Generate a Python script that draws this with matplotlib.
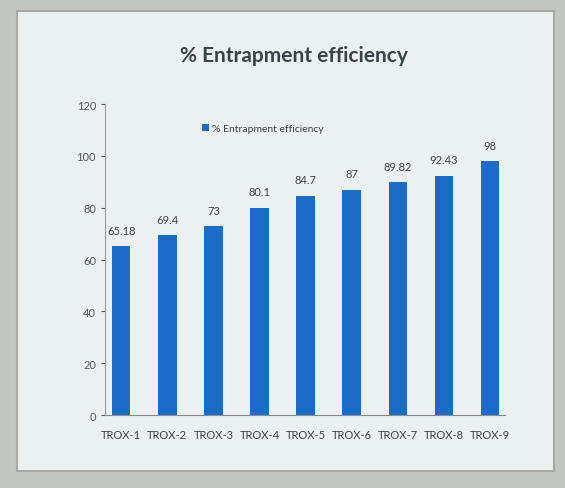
import matplotlib
matplotlib.use('Agg')
import matplotlib.pyplot as plt
from matplotlib.patches import Rectangle

categories = ['TROX-1', 'TROX-2', 'TROX-3', 'TROX-4', 'TROX-5',
              'TROX-6', 'TROX-7', 'TROX-8', 'TROX-9']
values = [65.18, 69.4, 73, 80.1, 84.7, 87, 89.82, 92.43, 98]
value_labels = ['65.18', '69.4', '73', '80.1', '84.7', '87', '89.82', '92.43', '98']
yticks = [0, 20, 40, 60, 80, 100, 120]


def main():
    plt.rcParams['font.family'] = ['Lato', 'DejaVu Sans']
    fig = plt.figure(figsize=(5.65, 4.89), dpi=100, facecolor='#c4c6c4')

    # slide area of the photo
    fig.patches.append(Rectangle((0.03, 0.035), 0.95, 0.94, transform=fig.transFigure,
                                 facecolor='#eaf1f0', edgecolor='#a8aaa8', lw=1.5, zorder=-1))

    ax = fig.add_axes([0.186, 0.149, 0.708, 0.636])
    ax.set_facecolor('none')

    x = range(len(categories))
    bars = ax.bar(x, values, width=0.4, color='#1a6cc6', zorder=2, label='% Entrapment efficiency')
    for b, lab in zip(bars, value_labels):
        ax.text(b.get_x() + b.get_width() / 2, b.get_height() + 4, lab,
                ha='center', va='bottom', fontsize=8, color='#404040')

    ax.set_xlim(-0.35, 8.33)
    ax.set_ylim(0, 120)
    ax.set_yticks(yticks)
    ax.set_xticks(list(x))
    ax.set_xticklabels(categories, fontsize=8, color='#404040')
    ax.tick_params(axis='y', labelsize=8, colors='#555555', length=3)
    ax.tick_params(axis='x', length=0, pad=10)

    for s in ['top', 'right']:
        ax.spines[s].set_visible(False)
    ax.spines['left'].set_color('#9a9a9a')
    ax.spines['bottom'].set_color('#8a8a8a')

    ax.legend(loc='upper left', bbox_to_anchor=(0.22, 0.965), frameon=False,
              fontsize=7.5, handlelength=0.6, handleheight=0.6, handletextpad=0.3,
              labelcolor='#404040')

    fig.text(0.52, 0.885, '% Entrapment efficiency', ha='center', va='center',
             fontsize=15, fontweight='bold', color='#3a4448')

    fig.savefig('out.png', dpi=100, facecolor=fig.get_facecolor())


if __name__ == '__main__':
    main()
